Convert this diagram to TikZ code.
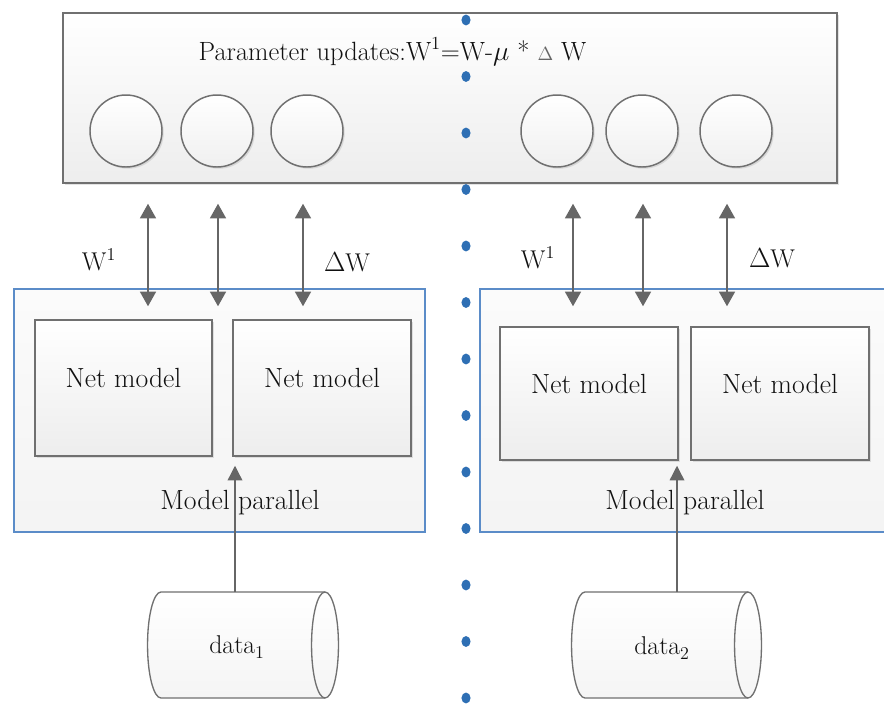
\documentclass[tikz,border=0pt]{standalone}
\usetikzlibrary{arrows.meta,shadows,fit}

\definecolor{edge}{HTML}{707070}
\definecolor{arrowgray}{HTML}{666666}
\definecolor{frameblue}{HTML}{5B8CC8}
\definecolor{dotblue}{HTML}{2E6FB4}
\definecolor{ink}{HTML}{111111}

\tikzset{
  every node/.style={font=\fontsize{19.3pt}{23pt}\selectfont, text=ink},
  big/.style={font=\fontsize{20.8pt}{24pt}\selectfont},
  softshadow/.style={drop shadow={shadow xshift=1.3pt, shadow yshift=-1.3pt, opacity=0.22}},
  panel/.style={draw=edge, line width=1.1pt, top color=white, bottom color=gray!14,
                inner sep=0pt, softshadow},
  unit/.style={circle, draw=edge, line width=1.1pt, top color=white, bottom color=gray!12,
               minimum size=54pt, inner sep=0pt, softshadow},
  group/.style={draw=frameblue, line width=1.1pt, top color=gray!3, bottom color=gray!9,
                inner sep=0pt},
  sync/.style={draw=arrowgray, line width=1.3pt,
               {Triangle[width=12pt,length=11pt]}-{Triangle[width=12pt,length=11pt]}},
  feed/.style={draw=arrowgray, line width=1pt, -{Triangle[width=11pt,length=11pt]}},
  drum/.style={draw=edge, line width=1pt, top color=white, bottom color=gray!8},
  dot/.style={fill=dotblue}
}

\begin{document}
\begin{tikzpicture}[x=0.75pt, y=-0.75pt]
  \useasboundingbox (0,0) rectangle (884,704);
  \fill[white] (0,0) rectangle (884,704);

  % model-parallel groups
  \node[group, fit={(14,289) (425,532)}] (GL) {};
  \node[group, fit={(480,289) (900,532)}] (GR) {};

  % net model boxes
  \node[panel, big, fit={(35,320) (212,456)}] (L1) {Net model};
  \node[panel, big, fit={(233,320) (411,456)}] (L2) {Net model};
  \node[panel, big, fit={(500,327) (678,460)}] (R1) {Net model};
  \node[panel, big, fit={(691,327) (869,460)}] (R2) {Net model};

  \node[big] (mpl) at (240,503) {Model parallel};
  \node[big] (mpr) at (685,503) {Model parallel};

  % parameter server
  \node[panel, fit={(63,13) (837,183)}] (T) {};
  \node[anchor=base, font=\fontsize{19.8pt}{23pt}\selectfont] (title) at (392.5,60)
    {Parameter updates:W\textsuperscript{1}=W-$\mu$ * {\fontsize{14pt}{14pt}\selectfont\color{black!60}$\Delta$} W};

  \node[unit] (c1) at (126,131) {};
  \node[unit] (c2) at (217,131) {};
  \node[unit] (c3) at (307,131) {};
  \node[unit] (c4) at (557,131) {};
  \node[unit] (c5) at (642,131) {};
  \node[unit] (c6) at (736,131) {};

  % exchange of weights and gradients
  \coordinate (a1) at (148,0);
  \coordinate (a2) at (218,0);
  \coordinate (a3) at (303,0);
  \coordinate (b1) at (573,0);
  \coordinate (b2) at (643,0);
  \coordinate (b3) at (727,0);
  \draw[sync, shorten <=15pt, shorten >=9.75pt] (T.south -| a1) -- (a1 |- L1.north);
  \draw[sync, shorten <=15pt, shorten >=9.75pt] (T.south -| a2) -- (a2 |- L1.north);
  \draw[sync, shorten <=15pt, shorten >=9.75pt] (T.south -| a3) -- (a3 |- L2.north);
  \draw[sync, shorten <=15pt, shorten >=15pt] (T.south -| b1) -- (b1 |- R1.north);
  \draw[sync, shorten <=15pt, shorten >=15pt] (T.south -| b2) -- (b2 |- R1.north);
  \draw[sync, shorten <=15pt, shorten >=15pt] (T.south -| b3) -- (b3 |- R2.north);

  \node (wl) at (99,260) {W\textsuperscript{1}};
  \node (dwl) at (347,262) {$\Delta$W};
  \node (wr) at (538,258) {W\textsuperscript{1}};
  \node (dwr) at (772,258) {$\Delta$W};

  % data stores
  \draw[drum] (161,592) -- (325,592)
    arc[start angle=90, end angle=-90, x radius=10.1pt, y radius=39.75pt]
    -- (161,698)
    arc[start angle=270, end angle=90, x radius=10.1pt, y radius=39.75pt] -- cycle;
  \draw[draw=edge, line width=1pt] (325,592)
    arc[start angle=90, end angle=270, x radius=10.1pt, y radius=39.75pt];
  \draw[drum] (585,592) -- (748,592)
    arc[start angle=90, end angle=-90, x radius=10.1pt, y radius=39.75pt]
    -- (585,698)
    arc[start angle=270, end angle=90, x radius=10.1pt, y radius=39.75pt] -- cycle;
  \draw[draw=edge, line width=1pt] (748,592)
    arc[start angle=90, end angle=270, x radius=10.1pt, y radius=39.75pt];

  \node (d1) at (237,647) {data\textsubscript{1}};
  \node (d2) at (662,648) {data\textsubscript{2}};

  \coordinate (d1top) at (235,592);
  \coordinate (d2top) at (677,592);
  \draw[feed, shorten >=6.75pt] (d1top) -- (d1top |- L2.south);
  \draw[feed, shorten >=3.75pt] (d2top) -- (d2top |- R1.south);

  % dotted divider
  \foreach \k in {0,...,12}
    \fill[dot] (466,20+56.5*\k) ellipse [x radius=3.4pt, y radius=4.1pt];
\end{tikzpicture}
\end{document}
